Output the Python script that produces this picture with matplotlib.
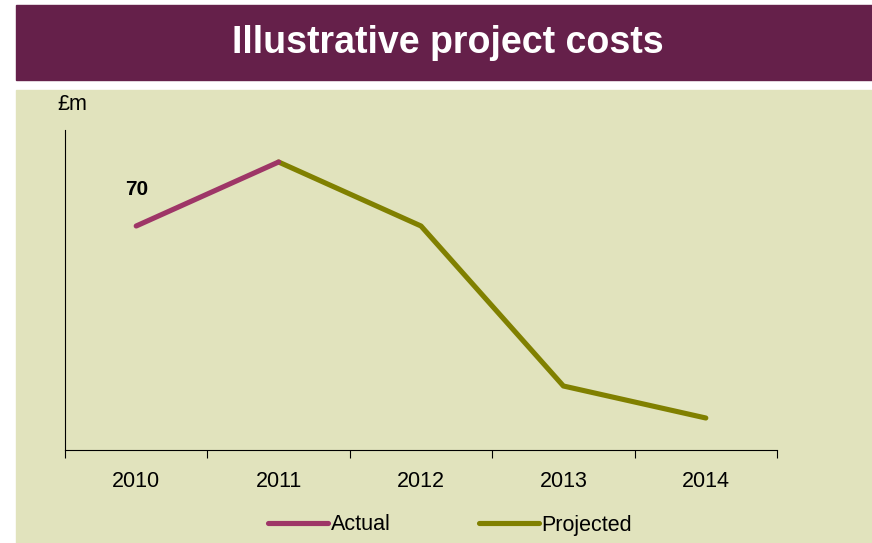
import matplotlib.pyplot as plt
from matplotlib.patches import Rectangle

plt.rcParams['font.family'] = ['Liberation Sans', 'DejaVu Sans']

years = ['2010', '2011', '2012', '2013', '2014']
actual = [70, 90]
projected = [90, 70, 20, 10]

banner_col = '#65204a'
panel_col = '#e1e3bd'
actual_col = '#9e3667'
proj_col = '#808000'

fig = plt.figure(figsize=(8.72, 5.43), dpi=100)
fig.patch.set_facecolor('white')

# title banner and chart panel
fig.patches.append(Rectangle((16 / 872, 1 - 80 / 543), 1, 75 / 543,
                             transform=fig.transFigure, color=banner_col, zorder=-10))
fig.patches.append(Rectangle((16 / 872, 0), 1, 1 - 90 / 543,
                             transform=fig.transFigure, color=panel_col, zorder=-10))
fig.text(0.514, 1 - 43 / 543, 'Illustrative project costs', color='white',
         fontsize=27, fontweight='bold', ha='center', va='center')

ax = fig.add_axes([65 / 872, 1 - 450 / 543, 712 / 872, 320 / 543])
ax.set_facecolor('none')

x = list(range(len(years)))
ax.plot(x[:2], actual, color=actual_col, lw=3.7, solid_capstyle='round',
        solid_joinstyle='round', label='Actual', zorder=3)
ax.plot(x[1:], projected, color=proj_col, lw=3.7, solid_capstyle='round',
        solid_joinstyle='round', label='Projected', zorder=2)

ax.annotate(str(actual[0]), (x[0], actual[0]), xytext=(0, 26),
            textcoords='offset points', ha='center', va='center',
            fontsize=15, fontweight='bold')

ax.set_xlim(-0.5, len(years) - 0.5)
ax.set_ylim(0, 100)
ax.set_xticks([i - 0.5 for i in range(len(years) + 1)])
ax.set_xticklabels([])
ax.set_xticks(x, minor=True)
ax.set_xticklabels(years, minor=True, fontsize=15.5)
ax.tick_params(axis='x', which='major', direction='out', length=6, width=0.8)
ax.tick_params(axis='x', which='minor', length=0, pad=15)
ax.set_yticks([])
for side in ['top', 'right']:
    ax.spines[side].set_visible(False)
for side in ['left', 'bottom']:
    ax.spines[side].set_linewidth(0.8)

fig.text(72 / 872, 1 - 104 / 543, '£m', fontsize=15.5, ha='center', va='center')

fig.legend(loc='center', bbox_to_anchor=(0.516, 1 - 525 / 543), ncol=2,
           frameon=False, fontsize=15.5, handlelength=2.8, handletextpad=0.1,
           columnspacing=4.1)

fig.savefig('out.png', dpi=100)
